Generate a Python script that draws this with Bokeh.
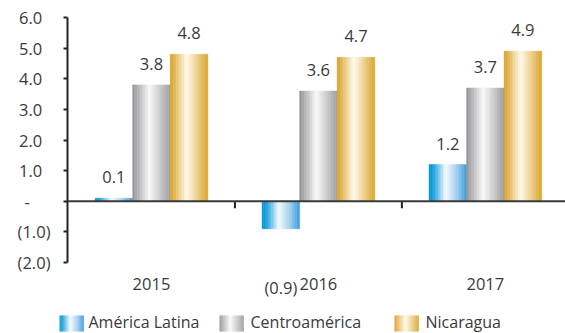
import numpy as np
from bokeh.plotting import figure
from bokeh.models import Range1d, Span, FixedTicker
from bokeh.embed import file_html
from bokeh.resources import INLINE
from bokeh.core.properties import value

# ---------------- data ----------------
years = ["2015", "2016", "2017"]
series_names = ["América Latina", "Centroamérica", "Nicaragua"]
america_latina = [0.1, -0.9, 1.2]
centroamerica = [3.8, 3.6, 3.7]
nicaragua = [4.8, 4.7, 4.9]
y_ticks = [-2, -1, 0, 1, 2, 3, 4, 5, 6]
y_tick_labels = ["(2.0)", "(1.0)", "-", "1.0", "2.0", "3.0", "4.0", "5.0", "6.0"]

# ---------------- styles ----------------
FONT = "Open Sans"
FSIZE = "16.5px"
LEG_FSIZE = "16px"
TXT = "#3a3a3a"
BAR_W = 0.225
N_STRIPS = 24
PX_PER_UNIT = 245 / 8.0
Y_MIN, Y_MAX = -2, 6
FRAME_TOP, FRAME_BOTTOM = 17, 300
gradients = [
    [(0.0, (0, 152, 218)), (0.12, (20, 158, 222)), (0.45, (246, 250, 255)), (0.75, (160, 205, 238)), (1.0, (55, 158, 220))],
    [(0.0, (145, 145, 148)), (0.45, (250, 250, 250)), (1.0, (158, 158, 162))],
    [(0.0, (214, 158, 28)), (0.45, (255, 250, 236)), (1.0, (218, 166, 42))],
]


def grad_color(stops, t):
    for (t0, c0), (t1, c1) in zip(stops[:-1], stops[1:]):
        if t0 <= t <= t1:
            f = (t - t0) / (t1 - t0) if t1 > t0 else 0
            c = [round(a + (b - a) * f) for a, b in zip(c0, c1)]
            return "#%02x%02x%02x" % tuple(c)
    return "#%02x%02x%02x" % stops[-1][1]


def tick_text(lbl):
    if lbl == "-":
        return "-\u2003\u2005"
    if lbl.startswith("("):
        return lbl
    return lbl + "\u2002"


# ---------------- main figure ----------------
y_bottom = Y_MAX - (FRAME_BOTTOM - FRAME_TOP) / PX_PER_UNIT
p = figure(width=565, height=FRAME_BOTTOM, output_backend="svg", toolbar_location=None,
           x_range=Range1d(0.497, 3.48), y_range=Range1d(y_bottom, Y_MAX),
           min_border_left=67, min_border_right=0, min_border_top=FRAME_TOP, min_border_bottom=0)
p.outline_line_color = None
p.xgrid.visible = False
p.ygrid.visible = False
p.xaxis.visible = False
p.background_fill_color = "white"
p.border_fill_color = "white"

series_vals = [america_latina, centroamerica, nicaragua]
for s, vals in enumerate(series_vals):
    off = (s - 1) * BAR_W
    xs, tops, cols = [], [], []
    for i, v in enumerate(vals):
        for k in range(N_STRIPS):
            t = (k + 0.5) / N_STRIPS
            xs.append(i + 1 + off - BAR_W / 2 + t * BAR_W)
            tops.append(v)
            cols.append(grad_color(gradients[s], t))
    p.vbar(x=xs, top=tops, bottom=0, width=BAR_W / N_STRIPS * 1.05,
           fill_color=cols, line_color=cols, line_width=0.4)

# zero line
p.add_layout(Span(location=0, dimension="width", line_color="#3a3a3a", line_width=2))

# category separator ticks at zero line
sep_x = [i + 1.5 for i in range(len(years) - 1)]
p.segment(x0=sep_x, y0=[0] * len(sep_x), x1=sep_x, y1=[-7 / PX_PER_UNIT] * len(sep_x),
          line_color="#222222", line_width=2)

# value labels
lx, ly, lt, loff = [], [], [], []
for s, vals in enumerate(series_vals):
    off = (s - 1) * BAR_W
    for i, v in enumerate(vals):
        lx.append(i + 1 + off)
        ly.append(v)
        lt.append("%.1f" % v if v >= 0 else "(%.1f)" % abs(v))
        loff.append(-21 if v >= 0 else 59)
p.text(x=lx, y=ly, text=lt, y_offset=loff, text_align="center", text_baseline="middle",
       text_font=value(FONT), text_font_size=FSIZE, text_color=TXT)

# category labels
p.text(x=[i + 1 for i in range(len(years))], y=[Y_MIN] * len(years), text=years, y_offset=21,
       text_align="center", text_baseline="middle",
       text_font=value(FONT), text_font_size=FSIZE, text_color=TXT)

# y axis
p.yaxis.bounds = (Y_MIN, Y_MAX)
p.yaxis.ticker = FixedTicker(ticks=y_ticks)
p.yaxis.major_label_overrides = {t: tick_text(l) for t, l in zip(y_ticks, y_tick_labels)}
p.yaxis.axis_line_color = "#222222"
p.yaxis.axis_line_width = 2
p.yaxis.major_tick_line_color = "#222222"
p.yaxis.major_tick_line_width = 2
p.yaxis.major_tick_in = 0
p.yaxis.major_tick_out = 4
p.yaxis.minor_tick_line_color = None
p.yaxis.major_label_standoff = 13
p.yaxis.major_label_text_font = FONT
p.yaxis.major_label_text_font_size = FSIZE
p.yaxis.major_label_text_color = TXT

# ---------------- legend figure ----------------
lg = figure(width=565, height=33, output_backend="svg", toolbar_location=None,
            x_range=Range1d(0, 565), y_range=Range1d(33, 0),
            min_border=0, min_border_left=0, min_border_right=0, min_border_top=0, min_border_bottom=0)
lg.axis.visible = False
lg.grid.visible = False
lg.outline_line_color = None
swatch_left = [59, 219, 394]
text_left = [88, 250, 425]
SW_W, SW_TOP, SW_BOT = 24, 15, 31
for s, name in enumerate(series_names):
    l0 = swatch_left[s]
    ls, rs, cols = [], [], []
    for k in range(N_STRIPS):
        t = (k + 0.5) / N_STRIPS
        ls.append(l0 + k * SW_W / N_STRIPS)
        rs.append(l0 + (k + 1) * SW_W / N_STRIPS + 0.3)
        cols.append(grad_color(gradients[s], t))
    lg.quad(left=ls, right=rs, top=[SW_TOP] * N_STRIPS, bottom=[SW_BOT] * N_STRIPS,
            fill_color=cols, line_color=None)
lg.text(x=text_left, y=[21] * 3, text=series_names, text_font=value(FONT), text_font_size=LEG_FSIZE,
        text_color=TXT, text_baseline="middle", text_align="left")

open("out.html", "w").write(file_html([p, lg], INLINE))
